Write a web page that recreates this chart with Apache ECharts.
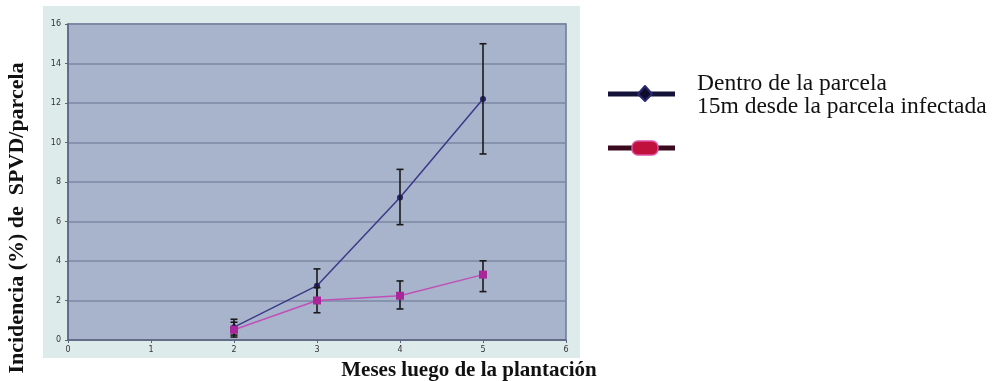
<!DOCTYPE html>
<html><head><meta charset="utf-8">
<script src="https://cdn.jsdelivr.net/npm/echarts@6/dist/echarts.min.js"></script>
<style>html,body{margin:0;padding:0;background:#fff}#c{width:1000px;height:381px}</style>
</head><body><div id="c"></div>
<script>
const months = [2, 3, 4, 5];
const dentroMean = [0.65, 2.75, 7.22, 12.2];
const dentroLow = [0.25, 1.9, 5.84, 9.42];
const dentroHigh = [1.05, 3.6, 8.64, 15.0];
const quinceMean = [0.52, 2.0, 2.24, 3.31];
const quinceLow = [0.15, 1.38, 1.57, 2.45];
const quinceHigh = [0.9, 2.65, 2.99, 4.01];
const xTicks = [0, 1, 2, 3, 4, 5, 6];
const yTicks = [0, 2, 4, 6, 8, 10, 12, 14, 16];
const legendNames = ['Dentro de la parcela', '15m desde la parcela infectada'];

const chart = echarts.init(document.getElementById('c'), null, {renderer: 'canvas'});

function errData(low, high) { return months.map((m, i) => [m, low[i], high[i]]); }
function errSeries(low, high) {
  return {
    type: 'custom', data: errData(low, high), z: 5,
    renderItem: function (params, api) {
      const x = api.value(0);
      const lo = api.coord([x, api.value(1)]);
      const hi = api.coord([x, api.value(2)]);
      const w = 3.5;
      const st = {stroke: '#1a1a1a', lineWidth: 1.6};
      return {type: 'group', children: [
        {type: 'line', shape: {x1: lo[0], y1: lo[1], x2: hi[0], y2: hi[1]}, style: st},
        {type: 'line', shape: {x1: lo[0]-w, y1: lo[1], x2: lo[0]+w, y2: lo[1]}, style: st},
        {type: 'line', shape: {x1: hi[0]-w, y1: hi[1], x2: hi[0]+w, y2: hi[1]}, style: st}
      ]};
    }
  };
}

chart.setOption({
  animation: false,
  graphic: [
    {type: 'rect', shape: {x: 43, y: 6, width: 537, height: 352}, style: {fill: '#deebeb'}, z: -10},
    {type: 'line', shape: {x1: 608, y1: 94, x2: 675, y2: 94}, style: {stroke: '#15123a', lineWidth: 5}},
    {type: 'polygon', shape: {points: [[645, 86], [652, 94], [645, 101], [638, 94]]}, style: {fill: '#0e0c2a', stroke: '#2a2870', lineWidth: 2, lineJoin: 'round'}},
    {type: 'line', shape: {x1: 608, y1: 148, x2: 675, y2: 148}, style: {stroke: '#3a0a1e', lineWidth: 5}},
    {type: 'rect', shape: {x: 632, y: 141, width: 26, height: 14, r: 6}, style: {fill: '#c0103c', stroke: '#e050a0', lineWidth: 1.5}},
    {type: 'text', style: {x: 697, y: 84, text: legendNames[0], font: '23.5px "Liberation Serif"', fill: '#111', textVerticalAlign: 'middle'}},
    {type: 'text', style: {x: 697, y: 107, text: legendNames[1], font: '23.5px "Liberation Serif"', fill: '#111', textVerticalAlign: 'middle'}}
  ],
  grid: {left: 68, right: 434, top: 24, bottom: 41, outerBoundsMode: 'none', show: true, backgroundColor: '#a8b4cc', borderColor: '#6c7896', borderWidth: 1.5},
  xAxis: {
    type: 'value', min: 0, max: 6, interval: 1,
    name: 'Meses luego de la plantación', nameLocation: 'middle', nameGap: 20,
    nameTextStyle: {fontFamily: 'Liberation Serif', fontWeight: 'bold', fontSize: 21, color: '#111', padding: [0, 0, 0, 304]},
    axisLine: {show: true, lineStyle: {color: '#5a6680', width: 1.5}},
    axisTick: {show: true, length: 3, lineStyle: {color: '#5a6680'}},
    axisLabel: {fontSize: 8, color: '#333', fontFamily: 'DejaVu Sans', margin: 6, formatter: v => xTicks.includes(v) ? String(v) : ''},
    splitLine: {show: false}
  },
  yAxis: {
    type: 'value', min: 0, max: 16, interval: 2,
    name: 'Incidencia (%) de  SPVD/parcela', nameLocation: 'middle', nameGap: 40,
    nameTextStyle: {fontFamily: 'Liberation Serif', fontWeight: 'bold', fontSize: 22, color: '#111', padding: [0, 0, 0, -72]},
    axisLine: {show: true, lineStyle: {color: '#5a6680', width: 1.5}},
    axisTick: {show: true, length: 3, lineStyle: {color: '#5a6680'}},
    axisLabel: {fontSize: 8, color: '#333', fontFamily: 'DejaVu Sans', margin: 7, formatter: v => yTicks.includes(v) ? String(v) : ''},
    splitLine: {show: true, lineStyle: {color: '#7c88a4', width: 1.5}}
  },
  series: [
    {name: legendNames[0], type: 'line', data: months.map((m, i) => [m, dentroMean[i]]),
     symbol: 'circle', symbolSize: 6, itemStyle: {color: '#24236e'}, lineStyle: {color: '#3a3a8a', width: 1.5}, z: 4},
    {name: legendNames[1], type: 'line', data: months.map((m, i) => [m, quinceMean[i]]),
     symbol: 'rect', symbolSize: 8, itemStyle: {color: '#a8289a'}, lineStyle: {color: '#c050b8', width: 1.5}, z: 6},
    errSeries(dentroLow, dentroHigh),
    errSeries(quinceLow, quinceHigh)
  ]
});
</script></body></html>
